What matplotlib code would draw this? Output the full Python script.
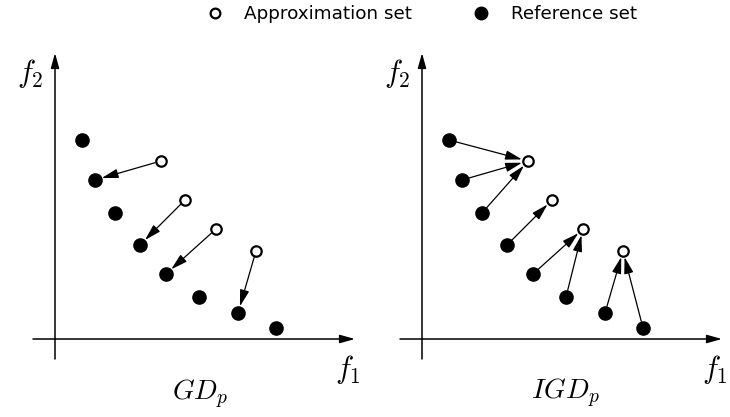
import matplotlib.pyplot as plt
from matplotlib.lines import Line2D

plt.rcParams['mathtext.fontset'] = 'cm'

# reference set (filled) and approximation set (open)
ref_f1 = [2.7, 4.0, 6.0, 8.5, 11.1, 14.4, 18.3, 22.1]
ref_f2 = [19.9, 15.9, 12.6, 9.4, 6.5, 4.2, 2.6, 1.1]
app_f1 = [10.6, 13.0, 16.1, 20.1]
app_f2 = [17.8, 13.9, 11.0, 8.8]

# GD: each approximation point -> nearest reference point
gd_pairs = [(0, 1), (1, 3), (2, 4), (3, 6)]
# IGD: each reference point -> nearest approximation point
igd_pairs = [(0, 0), (1, 0), (2, 0), (3, 1), (4, 2), (5, 2), (6, 3), (7, 3)]

W, H = 730, 417
fig = plt.figure(figsize=(7.3, 4.17), dpi=100)

def make_axes(x0):
    # 10 px per data unit, origin at pixel (x0 + 35, 339)
    ax = fig.add_axes([x0 / W, (H - 400) / H, 345 / W, 360 / H])
    ax.set_xlim(-3.5, 31.0)
    ax.set_ylim(-6.1, 29.9)
    ax.axis('off')
    return ax

def draw_frame(ax):
    ap = dict(arrowstyle='-|>,head_length=0.9,head_width=0.25', color='black',
              lw=1.1, shrinkA=0, shrinkB=0)
    ax.annotate('', xy=(30.0, 0), xytext=(-2.2, 0), arrowprops=ap)
    ax.annotate('', xy=(0, 28.6), xytext=(0, -2.0), arrowprops=ap)
    ax.text(-2.5, 26.6, r'$f_2$', fontsize=22, ha='center', va='center')
    ax.text(29.3, -3.1, r'$f_1$', fontsize=22, ha='center', va='center')

def arrow(ax, p, q, sa, sb):
    ax.annotate('', xy=q, xytext=p,
                arrowprops=dict(arrowstyle='-|>,head_length=1.0,head_width=0.28',
                                color='black', lw=0.9, shrinkA=sa, shrinkB=sb))

def draw_points(ax):
    ax.plot(ref_f1, ref_f2, 'o', color='black', ms=9.5, zorder=3)
    ax.plot(app_f1, app_f2, 'o', mfc='white', mec='black', mew=1.6, ms=7.5, zorder=4)

ax1 = make_axes(20)
draw_frame(ax1)
draw_points(ax1)
for a, r in gd_pairs:
    arrow(ax1, (app_f1[a], app_f2[a]), (ref_f1[r], ref_f2[r]), 4.5, 5.0)
ax1.text(14.5, -5.5, r'$GD_p$', fontsize=20, ha='center', va='center')

ax2 = make_axes(387)
draw_frame(ax2)
draw_points(ax2)
for r, a in igd_pairs:
    arrow(ax2, (ref_f1[r], ref_f2[r]), (app_f1[a], app_f2[a]), 5.0, 4.5)
ax2.text(14.3, -5.4, r'$IGD_p$', fontsize=20, ha='center', va='center')

handles = [
    Line2D([], [], ls='', marker='o', mfc='white', mec='black', mew=1.6, ms=7),
    Line2D([], [], ls='', marker='o', color='black', ms=9),
]
fig.legend(handles, ['Approximation set', 'Reference set'], ncol=2,
           loc='center', bbox_to_anchor=(419 / W, 1 - 14 / H), frameon=False,
           fontsize=13.2, columnspacing=3.0, handletextpad=0.85, handlelength=1.5)

fig.savefig('out.png', dpi=100)
